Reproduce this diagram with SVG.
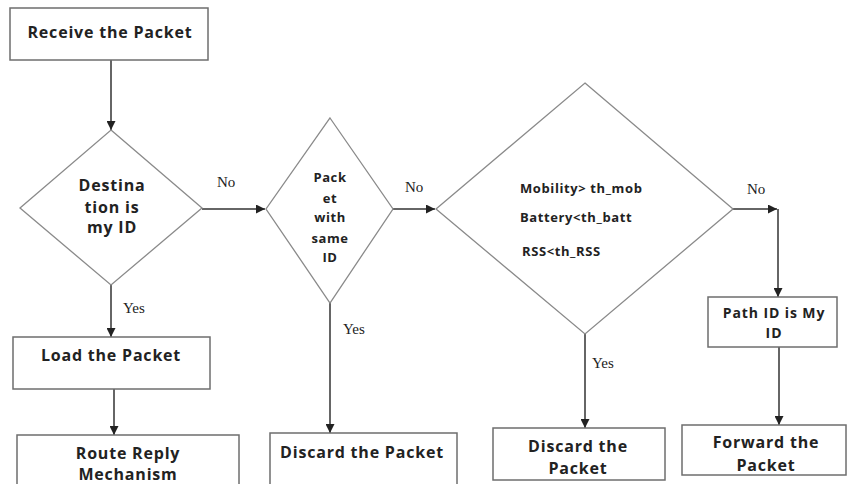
<svg xmlns="http://www.w3.org/2000/svg" width="849" height="484" viewBox="0 0 849 484">
<defs>
<style>
.box{fill:#fff;stroke:#6e6e6e;stroke-width:1.5}
.dia{fill:#fff;stroke:#8a8a8a;stroke-width:1.3}
.t{font-family:"Open Sans",Lato,"Liberation Sans",sans-serif;font-weight:bold;fill:#222;text-anchor:middle;font-size:16px;letter-spacing:0.8px}
.s{font-size:13px;letter-spacing:0.6px}
.p{font-size:14px;letter-spacing:0.9px}
.lbl{font-family:"Liberation Serif","Times New Roman",serif;font-size:15px;fill:#222}
.c{stroke:#333;stroke-width:1.5;fill:none}
</style>
<marker id="ah" viewBox="0 0 10 10" refX="10" refY="5" markerWidth="9" markerHeight="9" markerUnits="userSpaceOnUse" orient="auto">
<path d="M0,0 L10,5 L0,10 z" fill="#222"/>
</marker>
</defs>
<rect width="849" height="484" fill="#fff"/>
<g id="connectors">
<line class="c" x1="111" y1="60" x2="111" y2="130" marker-end="url(#ah)"/>
<line class="c" x1="202" y1="209" x2="265" y2="209" marker-end="url(#ah)"/>
<line class="c" x1="111" y1="285" x2="111" y2="337" marker-end="url(#ah)"/>
<line class="c" x1="114" y1="389" x2="114" y2="435" marker-end="url(#ah)"/>
<line class="c" x1="393" y1="209" x2="435" y2="209" marker-end="url(#ah)"/>
<line class="c" x1="330" y1="303" x2="330" y2="433" marker-end="url(#ah)"/>
<line class="c" x1="733" y1="209" x2="777" y2="209" marker-end="url(#ah)"/>
<line class="c" x1="778" y1="209" x2="778" y2="297" marker-end="url(#ah)"/>
<line class="c" x1="585" y1="334" x2="585" y2="428" marker-end="url(#ah)"/>
<line class="c" x1="779" y1="347" x2="779" y2="425" marker-end="url(#ah)"/>
<text class="lbl" x="217" y="187">No</text>
<text class="lbl" x="405" y="192">No</text>
<text class="lbl" x="747" y="194">No</text>
<text class="lbl" x="123" y="313">Yes</text>
<text class="lbl" x="343" y="334">Yes</text>
<text class="lbl" x="592" y="368">Yes</text>
</g>
<g id="receive">
<rect class="box" x="10" y="8" width="198" height="52"/>
<text class="t" x="110" y="38">Receive the Packet</text>
</g>
<g id="dest">
<polygon class="dia" points="111,130 202,208 111,285 20,208"/>
<text class="t" x="112" y="191">Destina</text>
<text class="t" x="112" y="213">tion is</text>
<text class="t" x="112" y="233">my ID</text>
</g>
<g id="load">
<rect class="box" x="13" y="337" width="197" height="52"/>
<text class="t" x="111" y="361">Load the Packet</text>
</g>
<g id="route">
<rect class="box" x="17" y="435" width="222" height="60"/>
<text class="t" x="128" y="459">Route Reply</text>
<text class="t" x="128" y="480">Mechanism</text>
</g>
<g id="same">
<polygon class="dia" points="330,118 393,209 330,303 266,209"/>
<text class="t s" x="330" y="182">Pack</text>
<text class="t s" x="330" y="203">et</text>
<text class="t s" x="330" y="222">with</text>
<text class="t s" x="330" y="243">same</text>
<text class="t s" x="330" y="262">ID</text>
</g>
<g id="discard1">
<rect class="box" x="270" y="433" width="187" height="60"/>
<text class="t" x="362" y="458">Discard the Packet</text>
</g>
<g id="cond">
<polygon class="dia" points="585,83 733,209 585,334 436,209"/>
<text class="t s" x="520" y="193" style="text-anchor:start">Mobility&gt; th_mob</text>
<text class="t s" x="520" y="222" style="text-anchor:start">Battery&lt;th_batt</text>
<text class="t s" x="522" y="256" style="text-anchor:start">RSS&lt;th_RSS</text>
</g>
<g id="discard2">
<rect class="box" x="493" y="428" width="172" height="52"/>
<text class="t" x="578" y="452">Discard the</text>
<text class="t" x="578" y="474">Packet</text>
</g>
<g id="path">
<rect class="box" x="708" y="297" width="129" height="50"/>
<text class="t p" x="774" y="318">Path ID is My</text>
<text class="t p" x="774" y="338">ID</text>
</g>
<g id="forward">
<rect class="box" x="682" y="425" width="164" height="50"/>
<text class="t" x="766" y="448">Forward the</text>
<text class="t" x="766" y="471">Packet</text>
</g>
</svg>
